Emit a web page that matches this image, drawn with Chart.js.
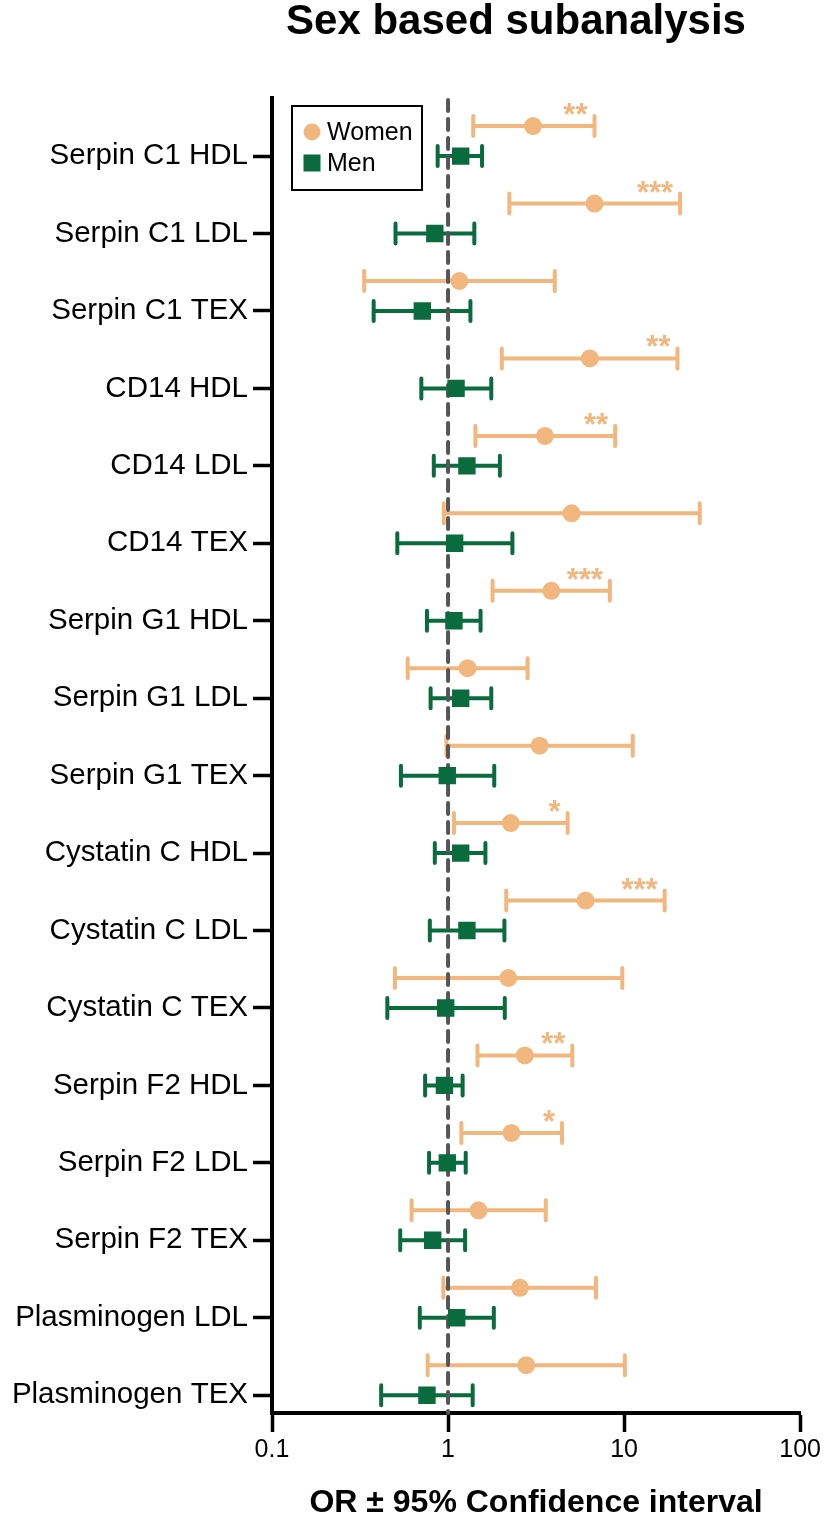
<!DOCTYPE html>
<html>
<head>
<meta charset="utf-8">
<script src="https://cdn.jsdelivr.net/npm/chart.js@4.4.0/dist/chart.umd.min.js"></script>
<style>
  body { margin: 0; background: #fff; }
  #wrap { width: 824px; height: 1520px; position: relative; }
</style>
</head>
<body>
<div id="wrap"><canvas id="forest"></canvas></div>
<script>
const categories = ['Serpin C1 HDL', 'Serpin C1 LDL', 'Serpin C1 TEX', 'CD14 HDL', 'CD14 LDL', 'CD14 TEX',
    'Serpin G1 HDL', 'Serpin G1 LDL', 'Serpin G1 TEX', 'Cystatin C HDL', 'Cystatin C LDL', 'Cystatin C TEX',
    'Serpin F2 HDL', 'Serpin F2 LDL', 'Serpin F2 TEX', 'Plasminogen LDL', 'Plasminogen TEX'];

const womenOR   = [3.04, 6.79, 1.16, 6.39, 3.55, 5.03, 3.86, 1.29, 3.31, 2.27, 6.04, 2.20, 2.73, 2.29, 1.49, 2.56, 2.78];
const womenLow  = [1.39, 2.23, 0.334, 2.02, 1.43, 0.946, 1.79, 0.59, 0.98, 1.08, 2.14, 0.499, 1.47, 1.19, 0.621, 0.94, 0.766];
const womenHigh = [6.79, 20.8, 4.04, 20.1, 8.90, 26.9, 8.30, 2.83, 11.2, 4.78, 17.0, 9.77, 5.08, 4.44, 3.59, 6.92, 10.1];

const menOR   = [1.18, 0.841, 0.714, 1.11, 1.28, 1.09, 1.08, 1.18, 0.99, 1.18, 1.28, 0.97, 0.954, 0.99, 0.818, 1.12, 0.759];
const menLow  = [0.873, 0.503, 0.378, 0.705, 0.83, 0.515, 0.759, 0.796, 0.54, 0.841, 0.788, 0.452, 0.741, 0.78, 0.535, 0.691, 0.417];
const menHigh = [1.56, 1.41, 1.34, 1.76, 1.97, 2.32, 1.53, 1.76, 1.83, 1.63, 2.09, 2.10, 1.21, 1.26, 1.25, 1.82, 1.38];

const womenStars = ['**', '***', '', '**', '**', '', '***', '', '', '*', '***', '', '**', '*', '', '', ''];

const xTicks = [0.1, 1, 10, 100];
const xTickLabels = ['0.1', '1', '10', '100'];

const WOMEN_COLOR = '#F1B77E';
const MEN_COLOR = '#0A6B3E';
const FONT = '"Liberation Sans", Arial, Helvetica, sans-serif';
const womenShift = 0.387; // women row sits a bit above the men row

function makePoints(or, low, high, shift) {
    return or.map((v, i) => ({ x: v, y: i - shift, low: low[i], high: high[i] }));
}

// error bars + reference line at OR = 1
const errorBars = {
    id: 'errorBars',
    beforeDatasetsDraw(chart) {
        const { ctx, chartArea, scales: { x, y } } = chart;
        ctx.save();
        chart.data.datasets.forEach(ds => {
            ctx.strokeStyle = ds.backgroundColor;
            ctx.lineWidth = 4;
            ctx.lineCap = 'round';
            ds.data.forEach(p => {
                const yp = y.getPixelForValue(p.y);
                const xl = x.getPixelForValue(p.low);
                const xh = x.getPixelForValue(p.high);
                ctx.beginPath();
                ctx.moveTo(xl, yp); ctx.lineTo(xh, yp);
                ctx.moveTo(xl, yp - 10); ctx.lineTo(xl, yp + 10);
                ctx.moveTo(xh, yp - 10); ctx.lineTo(xh, yp + 10);
                ctx.stroke();
            });
        });
        const x1 = x.getPixelForValue(1);
        ctx.strokeStyle = '#555555';
        ctx.lineWidth = 4;
        ctx.lineCap = 'round';
        ctx.setLineDash([11, 8]);
        ctx.beginPath();
        ctx.moveTo(x1, chartArea.top + 2);
        ctx.lineTo(x1, chartArea.bottom);
        ctx.stroke();
        ctx.restore();
    },
    afterDatasetsDraw(chart) {
        const { ctx, scales: { x, y } } = chart;
        ctx.save();
        ctx.fillStyle = WOMEN_COLOR;
        ctx.font = 'bold 31px ' + FONT;
        ctx.textAlign = 'right';
        ctx.textBaseline = 'alphabetic';
        chart.data.datasets[0].data.forEach((p, i) => {
            if (!womenStars[i]) return;
            ctx.fillText(womenStars[i], x.getPixelForValue(p.high) - 7, y.getPixelForValue(p.y) - 1);
        });
        ctx.restore();
    }
};

// title and boxed legend
const decor = {
    id: 'decor',
    afterDraw(chart) {
        const { ctx } = chart;
        ctx.save();
        ctx.fillStyle = '#000';
        ctx.font = 'bold 42px ' + FONT;
        ctx.textAlign = 'center';
        ctx.textBaseline = 'alphabetic';
        ctx.fillText('Sex based subanalysis', 516, 34);

        ctx.fillStyle = '#fff';
        ctx.fillRect(292, 106, 130, 84);
        ctx.strokeStyle = '#000';
        ctx.lineWidth = 2;
        ctx.strokeRect(292, 106, 130, 84);

        const ds = chart.data.datasets;
        ctx.fillStyle = ds[0].backgroundColor;
        ctx.beginPath();
        ctx.arc(312, 132, 8.5, 0, Math.PI * 2);
        ctx.fill();
        ctx.fillStyle = ds[1].backgroundColor;
        ctx.fillRect(303.5, 154.5, 17, 17);

        ctx.fillStyle = '#000';
        ctx.font = '25px ' + FONT;
        ctx.textAlign = 'left';
        ctx.textBaseline = 'middle';
        ctx.fillText(ds[0].label, 327, 133);
        ctx.fillText(ds[1].label, 327, 164);
        ctx.restore();
    }
};

const ctx = document.getElementById('forest').getContext('2d');
new Chart(ctx, {
    type: 'scatter',
    data: {
        datasets: [
            {
                label: 'Women',
                data: makePoints(womenOR, womenLow, womenHigh, womenShift),
                backgroundColor: WOMEN_COLOR,
                borderWidth: 0,
                pointStyle: 'circle',
                pointRadius: 9
            },
            {
                label: 'Men',
                data: makePoints(menOR, menLow, menHigh, 0),
                backgroundColor: MEN_COLOR,
                borderWidth: 0,
                pointStyle: 'rect',
                pointRadius: 12.3
            }
        ]
    },
    options: {
        responsive: true,
        maintainAspectRatio: false,
        animation: false,
        layout: { padding: { top: 98, right: 23, left: 0, bottom: 0 } },
        plugins: {
            legend: { display: false },
            tooltip: { enabled: false },
            title: { display: false }
        },
        scales: {
            x: {
                type: 'logarithmic',
                min: 0.1,
                max: 100,
                afterBuildTicks: s => { s.ticks = xTicks.map(v => ({ value: v })); },
                afterFit: s => { s.height = 107; },
                ticks: {
                    callback: (v, i) => xTickLabels[i],
                    color: '#000',
                    font: { family: FONT, size: 25 },
                    padding: 3,
                    maxRotation: 0,
                    autoSkip: false
                },
                grid: { drawOnChartArea: false, drawTicks: true, tickLength: 19, tickWidth: 3.5, color: '#000' },
                border: { color: '#000', width: 4 },
                title: {
                    display: true,
                    text: 'OR ± 95% Confidence interval',
                    color: '#000',
                    font: { family: FONT, size: 32, weight: 'bold' },
                    padding: { top: 0, bottom: -2 }
                }
            },
            y: {
                type: 'linear',
                reverse: true,
                min: -0.75,
                max: 16.23,
                afterBuildTicks: s => { s.ticks = categories.map((c, i) => ({ value: i })); },
                afterFit: s => { s.width = 272; },
                ticks: {
                    callback: v => categories[v],
                    color: '#000',
                    font: { family: FONT, size: 29.5 },
                    padding: 5,
                    autoSkip: false
                },
                grid: { drawOnChartArea: false, drawTicks: true, tickLength: 19, tickWidth: 3.5, color: '#000' },
                border: { color: '#000', width: 4 }
            }
        }
    },
    plugins: [errorBars, decor]
});
</script>
</body>
</html>
